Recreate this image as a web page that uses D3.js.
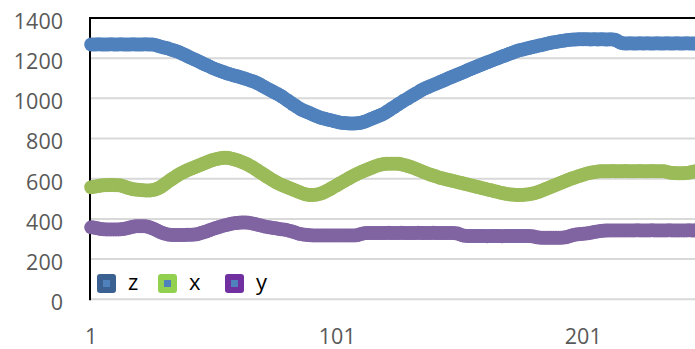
<!DOCTYPE html>
<html>
<head>
<meta charset="utf-8">
<script src="https://cdn.jsdelivr.net/npm/d3@7"></script>
<style>
  html, body { margin: 0; padding: 0; background: #fff; overflow: hidden; }
  text { font-family: "Open Sans", "Noto Sans", sans-serif; }
</style>
</head>
<body>
<svg id="chart" width="695" height="349"></svg>
<script>
// Sample index along the x axis
const categories = d3.range(1, 251);
const xTickLabels = [1, 101, 201];
const yTickValues = [0, 200, 400, 600, 800, 1000, 1200, 1400];
const seriesNames = ["z", "x", "y"];

const zValues = [
  1268,1268,1268,1269,1268,1268,1268,1268,1269,1268,
  1268,1268,1269,1268,1268,1268,1268,1269,1268,1268,
  1268,1268,1269,1268,1268,1268,1266,1262,1258,1255,
  1252,1249,1245,1241,1237,1233,1228,1222,1217,1211,
  1205,1199,1193,1188,1182,1176,1170,1165,1159,1153,
  1148,1143,1139,1134,1130,1125,1121,1118,1114,1111,
  1107,1104,1100,1096,1092,1088,1084,1079,1073,1066,
  1059,1052,1046,1039,1033,1026,1020,1013,1005,996,
  988,980,971,963,955,947,941,936,931,926,
  920,915,910,905,901,898,895,892,889,886,
  883,880,878,877,876,875,875,875,876,877,
  880,884,888,893,898,903,908,913,918,924,
  932,940,948,956,964,972,980,988,995,1002,
  1010,1017,1024,1031,1039,1046,1051,1056,1062,1067,
  1072,1077,1083,1088,1093,1099,1104,1109,1114,1119,
  1124,1129,1134,1140,1145,1150,1155,1160,1165,1170,
  1175,1180,1184,1189,1194,1198,1203,1208,1212,1217,
  1222,1226,1231,1236,1239,1242,1245,1248,1251,1254,
  1257,1260,1263,1265,1268,1271,1274,1277,1279,1281,
  1283,1285,1287,1289,1291,1292,1293,1293,1294,1294,
  1294,1294,1294,1293,1294,1294,1293,1294,1294,1293,
  1293,1294,1293,1292,1285,1278,1274,1273,1273,1274,
  1273,1273,1273,1274,1273,1273,1274,1273,1273,1273,
  1274,1273,1273,1273,1274,1273,1273,1273,1274,1273,
  1273,1273,1274,1273,1273,1273,1273,1274,1273,1273
];

const xValues = [
  558,560,562,564,566,567,568,569,569,569,
  568,567,566,563,559,554,551,548,546,545,
  544,543,542,541,542,544,546,551,557,565,
  574,583,592,600,608,616,624,630,636,642,
  647,652,657,662,667,672,677,682,687,692,
  695,698,701,703,704,704,703,700,697,693,
  689,684,679,674,668,661,654,646,638,630,
  622,614,606,598,591,584,577,571,566,561,
  556,551,546,541,536,531,527,523,520,519,
  519,520,522,525,529,535,541,548,555,562,
  569,576,583,590,597,604,611,617,623,629,
  635,640,645,650,655,660,664,668,671,673,
  674,675,675,675,675,674,672,669,666,662,
  658,654,649,644,639,634,629,624,620,616,
  612,608,604,601,598,595,592,589,586,583,
  580,577,574,571,568,565,562,559,556,553,
  550,547,544,541,538,535,532,529,526,524,
  522,521,520,519,519,519,520,521,523,525,
  528,531,535,540,545,550,555,560,565,570,
  575,580,585,590,595,600,604,608,612,616,
  620,624,627,630,632,634,636,637,637,637,
  637,637,638,637,637,637,637,638,637,637,
  637,637,637,638,637,637,637,637,638,637,
  637,637,637,637,634,631,629,628,627,627,
  627,627,628,630,633,636,637,637,637,637
];

const yValues = [
  358,357,355,352,350,349,348,348,348,348,
  348,348,349,350,352,355,358,361,363,364,
  364,364,363,361,357,352,347,341,335,330,
  326,323,321,320,320,320,320,320,320,321,
  321,321,322,324,327,331,335,339,344,348,
  352,356,360,364,367,370,373,376,378,380,
  381,382,382,382,381,379,376,373,370,367,
  364,361,359,357,355,353,351,349,348,346,
  343,340,336,332,328,325,323,321,320,319,
  318,318,318,318,318,318,318,318,318,318,
  318,318,318,318,318,318,318,318,319,322,
  326,329,330,330,330,330,330,330,330,330,
  330,331,330,330,330,330,331,330,330,330,
  330,330,330,331,330,330,330,330,330,331,
  330,330,330,330,330,330,330,330,329,327,
  322,318,316,315,315,315,315,315,315,315,
  315,314,315,315,315,315,315,314,315,315,
  315,315,315,315,315,315,315,315,315,314,
  312,309,307,306,306,306,306,306,306,306,
  306,306,307,309,312,316,320,322,324,325,
  326,327,329,331,334,336,338,340,341,342,
  342,343,343,343,343,343,343,343,343,343,
  343,343,344,343,343,343,343,343,344,343,
  343,343,343,343,343,344,343,343,343,343,
  343,343,343,344,343,343,343,343,343,343
];

const seriesValues = [zValues, xValues, yValues];
const lineColors = ["#4F81BD", "#9BBB59", "#8064A2"];
const legendColors = ["#3B6092", "#92D050", "#7030A0"];

const width = 695, height = 349;
const plotLeft = 90, plotTop = 18, plotBottom = 299.3;
const step = 2.46;

const svg = d3.select("#chart");

const x = d3.scaleBand()
  .domain(categories)
  .range([plotLeft, plotLeft + categories.length * step]);
const y = d3.scaleLinear().domain([0, 1400]).range([plotBottom, plotTop]);
const cx = d => x(d) + x.bandwidth() / 2;

// Horizontal gridlines (the top one is the plot frame)
svg.append("g")
  .selectAll("line")
  .data(yTickValues.filter(t => t < 1400))
  .join("line")
  .attr("x1", plotLeft).attr("x2", width)
  .attr("y1", d => y(d)).attr("y2", d => y(d))
  .attr("stroke", "#D9D9D9").attr("stroke-width", 2);

svg.append("line")
  .attr("x1", plotLeft - 1).attr("x2", width)
  .attr("y1", y(1400)).attr("y2", y(1400))
  .attr("stroke", "#000").attr("stroke-width", 2);
svg.append("line")
  .attr("x1", plotLeft).attr("x2", plotLeft)
  .attr("y1", y(1400) - 1).attr("y2", plotBottom + 1)
  .attr("stroke", "#000").attr("stroke-width", 2);

// Y axis labels
const yAxis = svg.append("g")
  .attr("transform", `translate(${plotLeft},0)`)
  .call(d3.axisLeft(y).tickValues(yTickValues).tickFormat(d3.format("d"))
    .tickSize(0).tickPadding(27));
yAxis.select(".domain").remove();
yAxis.selectAll("text")
  .attr("dy", "0.48em")
  .attr("fill", "#595959")
  .style("font-size", "21.5px")
  .style("font-family", "'Open Sans', sans-serif");

// X axis labels
const xAxis = svg.append("g")
  .attr("transform", `translate(0,${plotBottom})`)
  .call(d3.axisBottom(x).tickValues(xTickLabels).tickSize(0).tickPadding(29));
xAxis.select(".domain").remove();
xAxis.selectAll("text")
  .attr("fill", "#595959")
  .style("font-size", "21.5px")
  .style("font-family", "'Open Sans', sans-serif");

// Series drawn as dense round markers
seriesValues.forEach((vals, si) => {
  svg.append("g")
    .selectAll("circle")
    .data(vals.map((v, i) => ({ c: categories[i], v })))
    .join("circle")
    .attr("cx", d => cx(d.c))
    .attr("cy", d => y(d.v))
    .attr("r", 7)
    .attr("fill", lineColors[si]);
});

// Legend
const legendSquareX = [97, 158, 225];
const legend = svg.append("g");
seriesNames.forEach((name, i) => {
  const g = legend.append("g").attr("transform", `translate(${legendSquareX[i]},274)`);
  g.append("rect")
    .attr("width", 19).attr("height", 19).attr("rx", 3)
    .attr("fill", legendColors[i]);
  g.append("rect")
    .attr("x", 6).attr("y", 6).attr("width", 7).attr("height", 7)
    .attr("fill", lineColors[0]);
  g.append("text")
    .attr("x", 31).attr("y", 16)
    .attr("fill", "#000")
    .style("font-size", "22px")
    .text(name);
});
</script>
</body>
</html>
